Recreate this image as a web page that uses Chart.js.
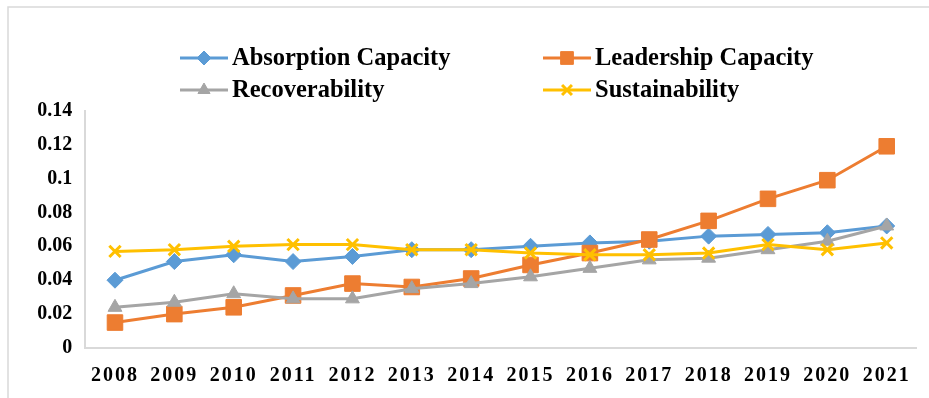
<!DOCTYPE html>
<html>
<head>
<meta charset="utf-8">
<script src="https://cdn.jsdelivr.net/npm/chart.js@4/dist/chart.umd.min.js"></script>
<style>
  html, body { margin: 0; padding: 0; background: #fff; }
  #wrap { position: relative; width: 929px; height: 398px; }
  canvas { display: block; }
</style>
</head>
<body>
<div id="wrap"><canvas id="c" width="929" height="398"></canvas></div>
<script>
// Years on the horizontal axis
const years = ['2008','2009','2010','2011','2012','2013','2014','2015','2016','2017','2018','2019','2020','2021'];

// Index values per dimension
const absorptionCapacity = [0.040, 0.051, 0.055, 0.051, 0.054, 0.058, 0.058, 0.060, 0.062, 0.063, 0.066, 0.067, 0.068, 0.072];
const leadershipCapacity = [0.015, 0.020, 0.024, 0.031, 0.038, 0.036, 0.041, 0.049, 0.056, 0.064, 0.075, 0.088, 0.099, 0.119];
const recoverability     = [0.024, 0.027, 0.032, 0.029, 0.029, 0.035, 0.038, 0.042, 0.047, 0.052, 0.053, 0.058, 0.063, 0.072];
const sustainability     = [0.057, 0.058, 0.060, 0.061, 0.061, 0.058, 0.058, 0.056, 0.055, 0.055, 0.056, 0.061, 0.058, 0.062];

// Y axis tick values
const yTicks = [0, 0.02, 0.04, 0.06, 0.08, 0.1, 0.12, 0.14];

const SERIF = '"Liberation Serif", "Times New Roman", Times, serif';
const AXIS_GREY = '#D9D9D9';

// Two-column legend drawn above the plot
const legendPlugin = {
  id: 'twoColLegend',
  afterDraw(chart) {
    const ctx = chart.ctx;
    const cols = [180, 543];
    const rows = [58, 90];
    ctx.save();
    ctx.letterSpacing = '0px';
    chart.data.datasets.forEach((ds, i) => {
      const x = cols[i % 2];
      const y = rows[Math.floor(i / 2)];
      ctx.strokeStyle = ds.borderColor;
      ctx.fillStyle = ds.borderColor;
      ctx.lineWidth = 3;
      ctx.beginPath();
      ctx.moveTo(x, y);
      ctx.lineTo(x + 48, y);
      ctx.stroke();
      ctx.lineWidth = ds.pointBorderWidth;
      Chart.helpers.drawPoint(ctx, {
        pointStyle: ds.pointStyle,
        radius: ds.pointStyle === 'rect' ? 9 : 7,
        borderWidth: ds.pointBorderWidth
      }, x + 24, y);
      ctx.fillStyle = '#000';
      ctx.font = 'bold 24.5px ' + SERIF;
      ctx.textBaseline = 'middle';
      ctx.textAlign = 'left';
      ctx.fillText(ds.label, x + 52, y + 1);
    });
    ctx.restore();
  }
};

// Thin frame on the left and top edges
const framePlugin = {
  id: 'frame',
  beforeDraw(chart) {
    const ctx = chart.ctx;
    ctx.save();
    ctx.strokeStyle = AXIS_GREY;
    ctx.lineWidth = 1.5;
    ctx.beginPath();
    ctx.moveTo(8, 398);
    ctx.lineTo(8, 7);
    ctx.lineTo(929, 7);
    ctx.stroke();
    ctx.restore();
  }
};

function series(label, data, color, style, radius, order) {
  return {
    label, data, order,
    borderColor: color,
    backgroundColor: color,
    borderWidth: 3,
    pointStyle: style,
    pointRadius: radius,
    pointHoverRadius: radius,
    pointBackgroundColor: color,
    pointBorderColor: color,
    pointBorderWidth: style === 'crossRot' ? 3 : 1,
    tension: 0
  };
}

new Chart(document.getElementById('c'), {
  type: 'line',
  data: {
    labels: years,
    datasets: [
      series('Absorption Capacity', absorptionCapacity, '#5B9BD5', 'rectRot', 8, 3),
      series('Leadership Capacity', leadershipCapacity, '#ED7D31', 'rect', 11, 2),
      series('Recoverability', recoverability, '#A5A5A5', 'triangle', 8, 1),
      series('Sustainability', sustainability, '#FFC000', 'crossRot', 8, 0)
    ]
  },
  options: {
    responsive: false,
    animation: false,
    events: [],
    layout: { padding: { top: 110.7, right: 12.6, left: 0, bottom: 0 } },
    plugins: {
      legend: { display: false },
      tooltip: { enabled: false },
      title: { display: false }
    },
    scales: {
      x: {
        offset: true,
        grid: { display: false, drawTicks: false },
        border: { display: true, color: AXIS_GREY, width: 2 },
        ticks: {
          color: '#000',
          font: { family: SERIF, size: 20, weight: 'bold' },
          padding: 16,
          maxRotation: 0,
          autoSkip: false
        },
        afterFit(scale) {
          scale.height = 50;
          // year labels are set with a little extra tracking
          if (!scale._spacedLabels) {
            const base = Object.getPrototypeOf(scale).drawLabels;
            scale.drawLabels = function (area) {
              const ctx = this.ctx;
              const prev = ctx.letterSpacing;
              ctx.letterSpacing = '2px';
              base.call(this, area);
              ctx.letterSpacing = prev || '0px';
            };
            scale._spacedLabels = true;
          }
        }
      },
      y: {
        min: 0,
        max: 0.14,
        grid: { display: false, drawTicks: false },
        border: { display: true, color: AXIS_GREY, width: 2 },
        afterBuildTicks(scale) {
          scale.ticks = yTicks.map(v => ({ value: v }));
        },
        ticks: {
          color: '#000',
          font: { family: SERIF, size: 20, weight: 'bold' },
          padding: 13,
          callback: v => String(Math.round(v * 100) / 100)
        },
        afterFit(scale) { scale.width = 85.3; }
      }
    }
  },
  plugins: [framePlugin, legendPlugin]
});
</script>
</body>
</html>
